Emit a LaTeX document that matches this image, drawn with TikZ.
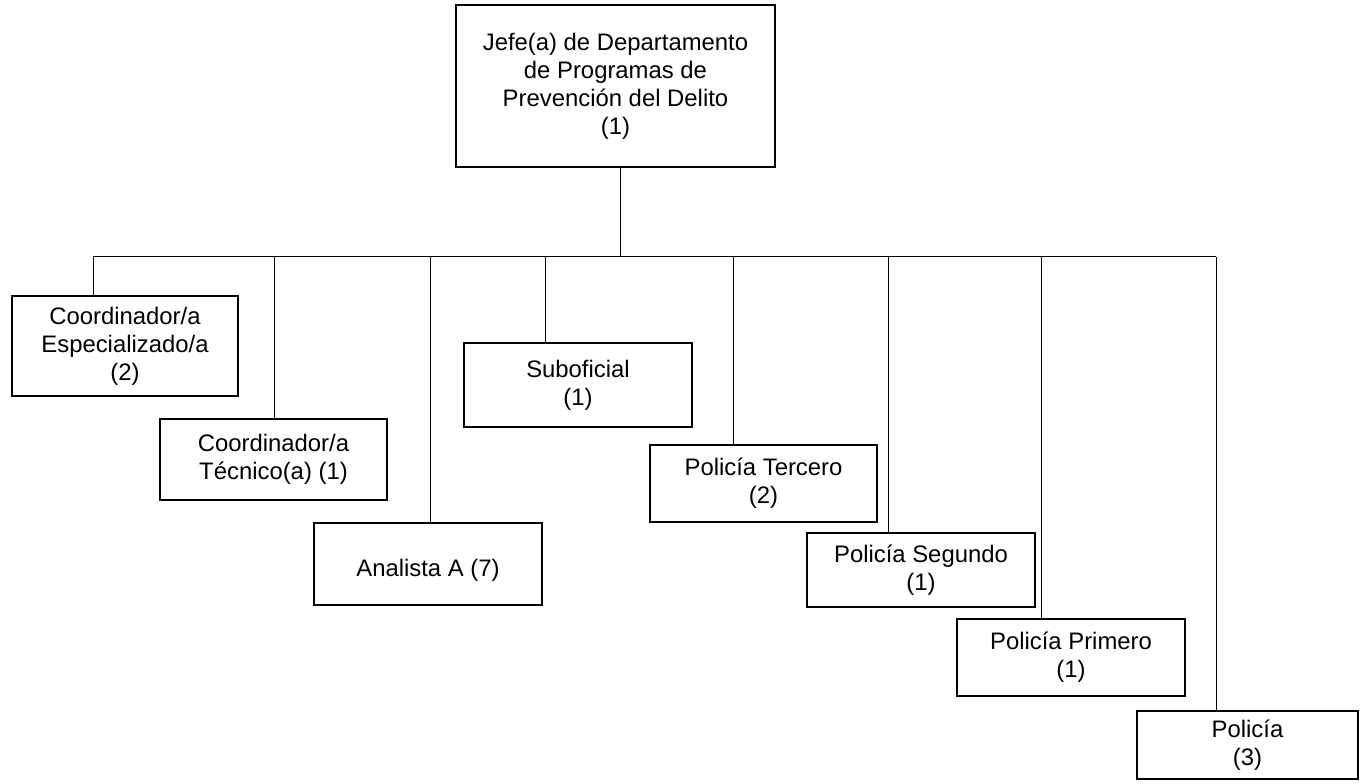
\documentclass[tikz,border=0pt]{standalone}
\usepackage{fontspec}
\setmainfont{Liberation Sans}
\tikzset{
  cargo/.style 2 args={draw, line width=1.1pt, align=center, inner sep=0.75pt,
    minimum width=#1*0.75pt, minimum height=#2*0.75pt,
    font=\fontsize{17.9}{21}\selectfont,
    execute at begin node={\rule{0pt}{22pt}}},
  enlace/.style={draw, line width=0.75pt}
}
\begin{document}
\begin{tikzpicture}[x=0.75pt,y=0.75pt,yscale=-1]
\useasboundingbox (0,0) rectangle (1364,784);

% Shape: Rectangle
\node [cargo={319}{162}] (jefe) at (615.5,86) {Jefe(a) de Departamento\\de Programas de\\Prevención del Delito\\(1)};
% Shape: Rectangle
\node [cargo={226}{100}] (esp) at (125,346) {Coordinador/a\\Especializado/a\\(2)};
% Shape: Rectangle
\node [cargo={227}{81}] (tec) at (273.5,459.5) {Coordinador/a\\Técnico(a) (1)};
% Shape: Rectangle
\node [cargo={228}{82}] (ana) at (428,564) {Analista A (7)};
% Shape: Rectangle
\node [cargo={228}{84}] (sub) at (578,385) {Suboficial\\(1)};
% Shape: Rectangle
\node [cargo={227}{77}] (ter) at (763.5,483.5) {Policía Tercero\\(2)};
% Shape: Rectangle
\node [cargo={228}{74}] (seg) at (921,570) {Policía Segundo\\(1)};
% Shape: Rectangle
\node [cargo={228}{77}] (pri) at (1071,657.5) {Policía Primero\\(1)};
% Shape: Rectangle
\node [cargo={221}{68}] (pol) at (1247.5,745) {Policía\\(3)};

% Bus points
\coordinate (b-jefe) at (620,257);
\coordinate (b-esp) at (93,257);
\coordinate (b-tec) at (274,257);
\coordinate (b-ana) at (430,257);
\coordinate (b-sub) at (545,257);
\coordinate (b-ter) at (733,257);
\coordinate (b-seg) at (888,257);
\coordinate (b-pri) at (1041,257);
\coordinate (b-pol) at (1216,257);

% Straight Lines
\draw [enlace] (b-jefe |- jefe.south) -- (b-jefe);
% Straight Lines
\draw [enlace] (b-esp) -- (b-pol);
% Straight Lines
\draw [enlace] (b-esp) -- (b-esp |- esp.north);
\draw [enlace] (b-tec) -- (b-tec |- tec.north);
\draw [enlace] (b-ana) -- (b-ana |- ana.north);
\draw [enlace] (b-sub) -- (b-sub |- sub.north);
\draw [enlace] (b-ter) -- (b-ter |- ter.north);
\draw [enlace] (b-seg) -- (b-seg |- seg.north);
\draw [enlace] (b-pri) -- (b-pri |- pri.north);
\draw [enlace] (b-pol) -- (b-pol |- pol.north);

\end{tikzpicture}
\end{document}
